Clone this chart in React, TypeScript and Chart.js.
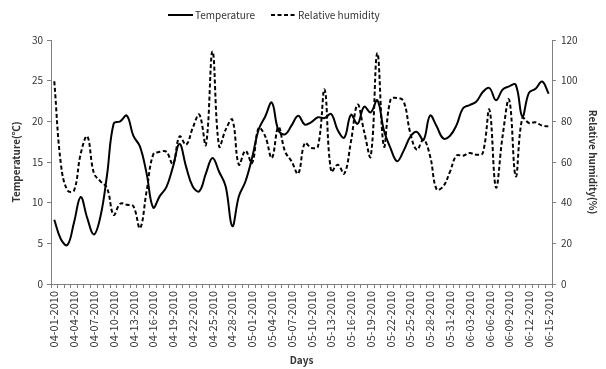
import React, { useEffect, useRef } from 'react';
import { Chart, registerables } from 'chart.js';

Chart.register(...registerables);

const FONT = "'Noto Sans CJK KR', 'Noto Sans', sans-serif";

const days = [
  '04-01-2010', '04-02-2010', '04-03-2010', '04-04-2010', '04-05-2010', '04-06-2010', '04-07-2010', '04-08-2010',
  '04-09-2010', '04-10-2010', '04-11-2010', '04-12-2010', '04-13-2010', '04-14-2010', '04-15-2010', '04-16-2010',
  '04-17-2010', '04-18-2010', '04-19-2010', '04-20-2010', '04-21-2010', '04-22-2010', '04-23-2010', '04-24-2010',
  '04-25-2010', '04-26-2010', '04-27-2010', '04-28-2010', '04-29-2010', '04-30-2010', '05-01-2010', '05-02-2010',
  '05-03-2010', '05-04-2010', '05-05-2010', '05-06-2010', '05-07-2010', '05-08-2010', '05-09-2010', '05-10-2010',
  '05-11-2010', '05-12-2010', '05-13-2010', '05-14-2010', '05-15-2010', '05-16-2010', '05-17-2010', '05-18-2010',
  '05-19-2010', '05-20-2010', '05-21-2010', '05-22-2010', '05-23-2010', '05-24-2010', '05-25-2010', '05-26-2010',
  '05-27-2010', '05-28-2010', '05-29-2010', '05-30-2010', '05-31-2010', '06-01-2010', '06-02-2010', '06-03-2010',
  '06-04-2010', '06-05-2010', '06-06-2010', '06-07-2010', '06-08-2010', '06-09-2010', '06-10-2010', '06-11-2010',
  '06-12-2010', '06-13-2010', '06-14-2010', '06-15-2010',
];

const temperature = [
  7.9, 5.5, 4.8, 7.6, 10.7, 8.1, 6.1, 8.3, 13.4, 19.7,
  20.0, 20.7, 18.2, 16.9, 13.6, 9.4, 10.8, 11.9, 14.4, 17.2,
  14.4, 12.0, 11.4, 13.6, 15.5, 13.8, 12.0, 7.1, 10.8, 12.6,
  15.5, 19.0, 20.6, 22.3, 18.9, 18.4, 19.5, 20.7, 19.6, 19.9,
  20.5, 20.4, 20.9, 18.9, 18.0, 20.8, 19.7, 21.8, 21.1, 22.6,
  18.9, 16.7, 15.1, 16.4, 18.1, 18.7, 17.7, 20.7, 19.4, 17.9,
  18.2, 19.5, 21.6, 22.0, 22.4, 23.6, 24.1, 22.6, 23.9, 24.3,
  24.5, 20.6, 23.5, 24.0, 24.9, 23.4,
];

const humidity = [
  99.7, 59, 46, 46, 64, 72.6, 54.6, 50.5, 47.2, 34,
  39.5, 39, 38.2, 27.5, 45.6, 63.6, 65, 65, 59, 72.6,
  68.5, 76.7, 83.3, 68.5, 114.4, 67.7, 75.9, 80.8, 58.7, 65.5,
  59.5, 76.7, 72.6, 62, 77.2, 65.2, 60.3, 54.3, 69.3, 66.9,
  67.7, 95.6, 55.4, 58.7, 54.3, 70, 88.2, 75, 62.8, 113.6,
  67.7, 90.6, 91.5, 89.8, 74.3, 66, 71, 63, 46.5, 48,
  55, 63.1, 63.1, 64.4, 63.6, 64.4, 85.7, 47.5, 72.6, 90.6,
  53, 81.6, 79.2, 79.5, 77.9, 77.5,
];

const seriesNames = ['Temperature', 'Relative humidity'];
const axisTitles = { x: 'Days', left: 'Temperature(\u2103)', right: 'Relative humidity(%)' };

const TEXT = '#333333';
const AXIS = '#7f7f7f';

const legendPlugin = {
  id: 'customLegend',
  afterDraw(chart: any) {
    const ctx = chart.ctx;
    ctx.save();
    const y = 15;
    let x = 168;
    ctx.font = `10px ${FONT}`;
    ctx.textBaseline = 'middle';
    ctx.textAlign = 'left';
    chart.data.datasets.forEach((ds: any) => {
      ctx.beginPath();
      ctx.setLineDash(ds.borderDash || []);
      ctx.lineWidth = 2;
      ctx.strokeStyle = ds.borderColor;
      ctx.moveTo(x, y);
      ctx.lineTo(x + 25, y);
      ctx.stroke();
      ctx.setLineDash([]);
      ctx.fillStyle = TEXT;
      ctx.fillText(ds.label, x + 27, y);
      x += 27 + ctx.measureText(ds.label).width + 16;
    });
    ctx.restore();
  },
};

export default function App() {
  const ref = useRef<HTMLCanvasElement | null>(null);

  useEffect(() => {
    if (!ref.current) return;
    const chart = new Chart(ref.current, {
      type: 'line',
      data: {
        labels: days,
        datasets: [
          {
            label: seriesNames[0],
            data: temperature,
            yAxisID: 'y',
            borderColor: '#000000',
            backgroundColor: '#000000',
            borderWidth: 2,
            pointRadius: 0,
            tension: 0.4,
            fill: false,
          },
          {
            label: seriesNames[1],
            data: humidity,
            yAxisID: 'y1',
            borderColor: '#000000',
            backgroundColor: '#000000',
            borderWidth: 2,
            borderDash: [4, 2.5],
            pointRadius: 0,
            tension: 0.4,
            fill: false,
          },
        ],
      },
      options: {
        responsive: false,
        animation: false,
        events: [],
        layout: { padding: { top: 40, left: 0, right: 0, bottom: 0 } },
        plugins: {
          legend: { display: false },
          tooltip: { enabled: false },
        },
        scales: {
          x: {
            type: 'category',
            offset: true,
            afterFit: (s: any) => { s.height = 85; },
            grid: { drawOnChartArea: false, offset: true, color: AXIS, tickLength: 4 },
            border: { color: AXIS, width: 1 },
            ticks: {
              autoSkip: false,
              maxRotation: 90,
              minRotation: 90,
              padding: 3,
              color: TEXT,
              font: { family: FONT, size: 11 },
              callback: (_v: any, i: number) => (i % 3 === 0 ? days[i] : ''),
            },
            title: {
              display: true,
              text: axisTitles.x,
              color: TEXT,
              font: { family: FONT, size: 10, weight: 'bold' },
              padding: { top: 2, bottom: 3 },
            },
          },
          y: {
            position: 'left',
            min: 0,
            max: 30,
            afterFit: (s: any) => { s.width = 51; },
            grid: { drawOnChartArea: false, color: AXIS, tickLength: 4 },
            border: { color: AXIS, width: 1 },
            ticks: {
              stepSize: 5,
              padding: 4,
              color: TEXT,
              font: { family: FONT, size: 10 },
            },
            title: {
              display: true,
              text: axisTitles.left,
              color: TEXT,
              font: { family: FONT, size: 10, weight: 'bold' },
              padding: { top: 10, bottom: 0 },
            },
          },
          y1: {
            position: 'right',
            min: 0,
            max: 120,
            afterFit: (s: any) => { s.width = 54; },
            grid: { drawOnChartArea: false, color: AXIS, tickLength: 4 },
            border: { color: AXIS, width: 1 },
            ticks: {
              stepSize: 20,
              padding: 5,
              color: TEXT,
              font: { family: FONT, size: 10 },
            },
            title: {
              display: true,
              text: axisTitles.right,
              color: TEXT,
              font: { family: FONT, size: 10, weight: 'bold' },
              padding: { top: 7, bottom: 0 },
            },
          },
        },
      },
      plugins: [legendPlugin],
    } as any);
    return () => chart.destroy();
  }, []);

  return (
    <div style={{ position: 'absolute', left: 0, top: 0, width: 606, height: 369, background: '#ffffff' }}>
      <canvas ref={ref} width={606} height={369} style={{ display: 'block' }} />
    </div>
  );
}
